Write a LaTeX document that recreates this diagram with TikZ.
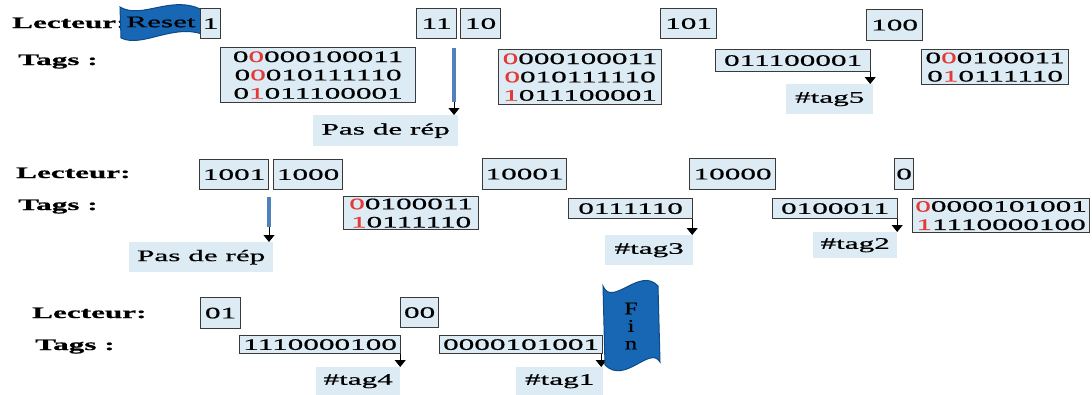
\documentclass[tikz,border=0pt]{standalone}
\usepackage{fontspec}
\usetikzlibrary{arrows.meta}
% wide serif used throughout the figure
\newfontfamily\wfont[FakeStretch=1.95,FakeBold=0.8]{Liberation Serif}
\newfontfamily\finfont[FakeStretch=1.35,FakeBold=0.8]{Liberation Serif}
\newcommand\wsize{\fontsize{16}{18.3}\selectfont}
\newcommand\finsize{\fontsize{18}{17.5}\selectfont}
\definecolor{boxfill}{HTML}{DDEBF4}
\definecolor{boxline}{HTML}{3A3A3A}
\definecolor{tred}{HTML}{E53935}
\definecolor{barblue}{HTML}{4F81BD}
\definecolor{flagblue}{HTML}{1767B5}
\definecolor{flagedge}{HTML}{0E4A85}
\newcommand\rd[1]{\textcolor{tred}{#1}}
\tikzset{
  bx/.style={draw=boxline, fill=boxfill, line width=1.2pt, inner sep=0pt,
             anchor=north west, align=center, font=\wfont\wsize},
  lab/.style={fill=boxfill, inner sep=0pt, anchor=north west, font=\wfont\wsize},
  head/.style={inner sep=0pt, anchor=base west, font=\wfont\wsize\bfseries},
  arr/.style={-{Triangle[width=11pt,length=7pt]}, line width=1pt, black},
  bar/.style={line width=3.5pt, draw=barblue},
  flag/.style={fill=flagblue, draw=flagedge, line width=1pt}
}
\begin{document}
\begin{tikzpicture}[x=1pt,y=-1pt]
\fill[white] (0,0) rectangle (1092,394);
\useasboundingbox (0,0) rectangle (1092,394);

% ---------- first round ----------
\node[head] (lec1) at (12,28) {Lecteur:};
\node[head] (tag1h) at (18,65) {Tags :};
\filldraw[flag] (120,7) .. controls (142,20) and (172,-6) .. (202,10)
  -- (202,34) .. controls (172,24) and (142,48) .. (121,38) -- cycle;
\node[font=\wfont\wsize, inner sep=0pt] (reset) at (161,22) {Reset};
\node[bx, minimum width=20pt, minimum height=30pt] (q1) at (200,8) {1};
\node[bx, minimum width=195pt, minimum height=55pt] (a1) at (220,47)
  {0\rd{0}000100011\\0\rd{0}010111110\\0\rd{1}011100001};
\node[bx, minimum width=40pt, minimum height=30pt] (q11) at (416,8) {11};
\node[bx, minimum width=40pt, minimum height=30pt] (q10) at (460,8) {10};
\coordinate (b1t) at (454,48);
\coordinate (b1b) at (454,102);
\node[lab, minimum width=145pt, minimum height=31pt] (pas1) at (313,115) {Pas de rép};
\draw[bar] (b1t) -- (b1b);
\draw[arr] (b1b) -- (b1b |- pas1.north);
\node[bx, minimum width=163pt, minimum height=55pt] (a2) at (498,49)
  {\rd{0}000100011\\\rd{0}010111110\\\rd{1}011100001};
\node[bx, minimum width=56pt, minimum height=30pt] (q101) at (660,8) {101};
\node[bx, minimum width=155pt, minimum height=22pt] (a3) at (715,49) {011100001};
\node[lab, minimum width=87pt, minimum height=30pt] (t5) at (786,84) {\#tag5};
\draw[arr] ([xshift=-1pt]a3.south east) -- ([xshift=-1pt]a3.south east |- t5.north);
\node[bx, minimum width=56pt, minimum height=31pt] (q100) at (866,9) {100};
\node[bx, minimum width=147pt, minimum height=35pt] (a4) at (921,49)
  {0\rd{0}0100011\\0\rd{1}0111110};

% ---------- second round ----------
\node[head] (lec2) at (16,178) {Lecteur:};
\node[head] (tag2h) at (18,210) {Tags :};
\node[bx, minimum width=69pt, minimum height=30pt] (q1001) at (199,159) {1001};
\node[bx, minimum width=69pt, minimum height=30pt] (q1000) at (273,159) {1000};
\coordinate (b2t) at (269,197);
\coordinate (b2b) at (269,227);
\node[lab, minimum width=144pt, minimum height=30pt] (pas2) at (129,242) {Pas de rép};
\draw[bar] (b2t) -- (b2b);
\draw[arr] (b2b) -- (b2b |- pas2.north);
\node[bx, minimum width=135pt, minimum height=33pt] (a5) at (343,196)
  {\rd{0}0100011\\\rd{1}0111110};
\node[bx, minimum width=84pt, minimum height=31pt] (q10001) at (482,158) {10001};
\node[bx, minimum width=124pt, minimum height=20pt] (a6) at (568,198) {0111110};
\node[lab, minimum width=88pt, minimum height=30pt] (t3) at (605,235) {\#tag3};
\draw[arr] ([xshift=-1pt]a6.south east) -- ([xshift=-1pt]a6.south east |- t3.north);
\node[bx, minimum width=86pt, minimum height=31pt] (q10000) at (689,158) {10000};
\node[bx, minimum width=125pt, minimum height=20pt] (a7) at (772,198) {0100011};
\node[lab, minimum width=84pt, minimum height=26pt] (t2) at (813,232) {\#tag2};
\draw[arr] ([xshift=-1pt]a7.south east) -- ([xshift=-1pt]a7.south east |- t2.north);
\node[bx, minimum width=19pt, minimum height=31pt] (q0) at (894,158) {0};
\node[bx, minimum width=177pt, minimum height=34pt] (a8) at (912,198)
  {\rd{0}0000101001\\\rd{1}1110000100};

% ---------- third round ----------
\node[head] (lec3) at (32,318) {Lecteur:};
\node[head] (tag3h) at (35,350) {Tags :};
\node[bx, minimum width=40pt, minimum height=31pt] (q01) at (200,297) {01};
\node[bx, minimum width=161pt, minimum height=18pt] (a9) at (239,335) {1110000100};
\node[lab, minimum width=84pt, minimum height=28pt] (t4) at (316,367) {\#tag4};
\draw[arr] ([xshift=-1pt]a9.south east) -- ([xshift=-1pt]a9.south east |- t4.north);
\node[bx, minimum width=38pt, minimum height=30pt] (q00) at (400,297) {00};
\node[bx, minimum width=163pt, minimum height=18pt] (a10) at (439,335) {0000101001};
\node[lab, minimum width=87pt, minimum height=28pt] (t1) at (516,367) {\#tag1};
\draw[arr] ([xshift=-2pt]a10.south east) -- ([xshift=-2pt]a10.south east |- t1.north);
\filldraw[flag] (603,286) .. controls (612,308) and (640,266) .. (658,286)
  -- (660,362) .. controls (650,345) and (625,385) .. (605,365) -- cycle;
\node[font=\finfont\finsize, align=center, inner sep=0pt] (fin) at (631,326) {F\\i\\n};
\end{tikzpicture}
\end{document}
